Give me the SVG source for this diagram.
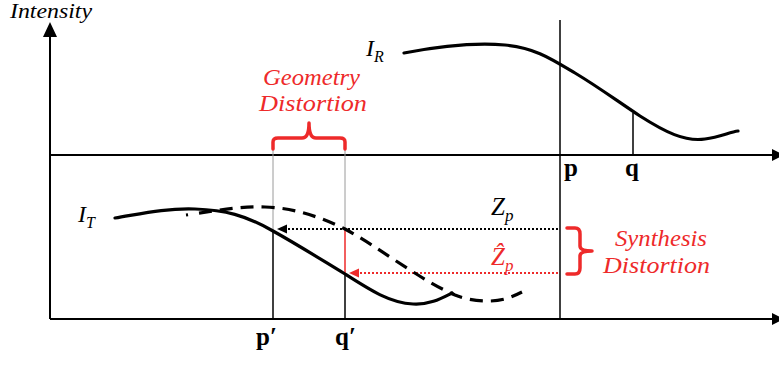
<svg xmlns="http://www.w3.org/2000/svg" width="779" height="365" viewBox="0 0 779 365">
<style>
.ax{stroke:#000;stroke-width:2;fill:none}
.thin{stroke:#000;stroke-width:1.5;fill:none}
.guide{stroke:#9a9a9a;stroke-width:1;fill:none}
.curve{stroke:#000;stroke-width:3.2;fill:none;stroke-linecap:round}
.dash{stroke:#000;stroke-width:3.2;fill:none;stroke-dasharray:2 11 13 8 13 8 13 8 13 8 13 8 13 8 13 8 13 8 13 8 13 8 13 8 13 8 13 8 13 8 13 8 13 8 13 8 13 8 13 8 13 8 13 8 13 8 13 8 13 8 13 8}
.lbl{font-family:"Liberation Serif","Times New Roman",serif;font-style:italic;fill:#000}
.red{font-family:"Liberation Serif","Times New Roman",serif;font-style:italic;fill:#ee2a2a}
.pt{font-family:"Liberation Serif","Times New Roman",serif;font-weight:bold;fill:#000;font-size:25px}
.brace{stroke:#ee2a2a;stroke-width:3.5;fill:none;stroke-linecap:round;stroke-linejoin:round}
</style>
<rect width="779" height="365" fill="#fff"/>
<g id="axes">
<line class="ax" x1="50" y1="34" x2="50" y2="319"/>
<polygon points="43,37 50,22 57,37" fill="#000"/>
<line class="ax" x1="50" y1="155" x2="774" y2="155"/>
<polygon points="772,149 784,155 772,161" fill="#000"/>
<line class="ax" x1="50" y1="319" x2="774" y2="319"/>
<polygon points="772,313 784,319 772,325" fill="#000"/>
<text class="lbl" x="10" y="18" font-size="20" textLength="82" lengthAdjust="spacingAndGlyphs">Intensity</text>
</g>
<g id="connectors">
<line class="thin" x1="560" y1="20" x2="560" y2="319"/>
<line class="thin" x1="633" y1="113" x2="633" y2="155"/>
<line class="guide" x1="273" y1="147" x2="273" y2="231"/>
<line class="guide" x1="345" y1="147" x2="345" y2="229"/>
<line class="thin" x1="273" y1="231" x2="273" y2="319"/>
<line class="thin" x1="345" y1="273" x2="345" y2="319"/>
<line x1="345" y1="229" x2="345" y2="273" stroke="#ee2a2a" stroke-width="1.5"/>
<line x1="558" y1="229" x2="284" y2="229" stroke="#000" stroke-width="2" stroke-dasharray="2 2"/>
<polygon points="277,229 287,224.5 287,233.5" fill="#000"/>
<line x1="558" y1="273" x2="356" y2="273" stroke="#ee2a2a" stroke-width="2" stroke-dasharray="2 2"/>
<polygon points="349,273 359,268.5 359,277.5" fill="#ee2a2a"/>
</g>
<g id="IR">
<path class="curve" d="M404,53 C430,48 470,42 505,45 C535,48 550,58 575,73 C600,88 620,103 640,116 C665,132 685,142 705,139 C720,137 730,132 738,131"/>
<text class="lbl" x="366" y="56" font-size="24">I<tspan font-size="16" dy="6">R</tspan></text>
</g>
<g id="IT">
<path class="curve" d="M115,218 C140,214 165,208 195,209 C225,210 245,215 273,231 C300,246 325,262 345,274 C370,290 390,303 413,304 C430,305 442,298 452,293"/>
<path class="dash" d="M186,215 C215,211 240,206 265,207 C295,208 320,217 345,229 C380,248 420,280 455,295 C470,301 490,303 505,299 C512,297 518,294 522,292"/>
<text class="lbl" x="78" y="222" font-size="24">I<tspan font-size="16" dy="6">T</tspan></text>
</g>
<g id="geometry">
<path class="brace" d="M273,149 L273,142 Q273,138 278,138 L302,138 Q309,138 309,123 Q309,138 316,138 L340,138 Q345,138 345,142 L345,149"/>
<text class="red" x="263" y="85" font-size="23" textLength="97" lengthAdjust="spacingAndGlyphs">Geometry</text>
<text class="red" x="259" y="111" font-size="23" textLength="108" lengthAdjust="spacingAndGlyphs">Distortion</text>
</g>
<g id="synthesis">
<path class="brace" d="M567,228 L575,228 Q580,228 580,234 L580,246 Q580,251 592,251 Q580,251 580,256 L580,268 Q580,274 575,274 L567,274"/>
<text class="red" x="615" y="246" font-size="23" textLength="92" lengthAdjust="spacingAndGlyphs">Synthesis</text>
<text class="red" x="603" y="273" font-size="23" textLength="107" lengthAdjust="spacingAndGlyphs">Distortion</text>
</g>
<g id="Zp">
<text class="lbl" x="491" y="215" font-size="25">Z<tspan font-size="17" dy="6">p</tspan></text>
</g>
<g id="Zhat">
<text class="red" x="491" y="265" font-size="25">Ẑ<tspan font-size="17" dy="6">p</tspan></text>
</g>
<g id="labels">
<text class="pt" x="564" y="176">p</text>
<text class="pt" x="625" y="176">q</text>
<text class="pt" x="256" y="345">p′</text>
<text class="pt" x="335" y="345">q′</text>
</g>
</svg>
